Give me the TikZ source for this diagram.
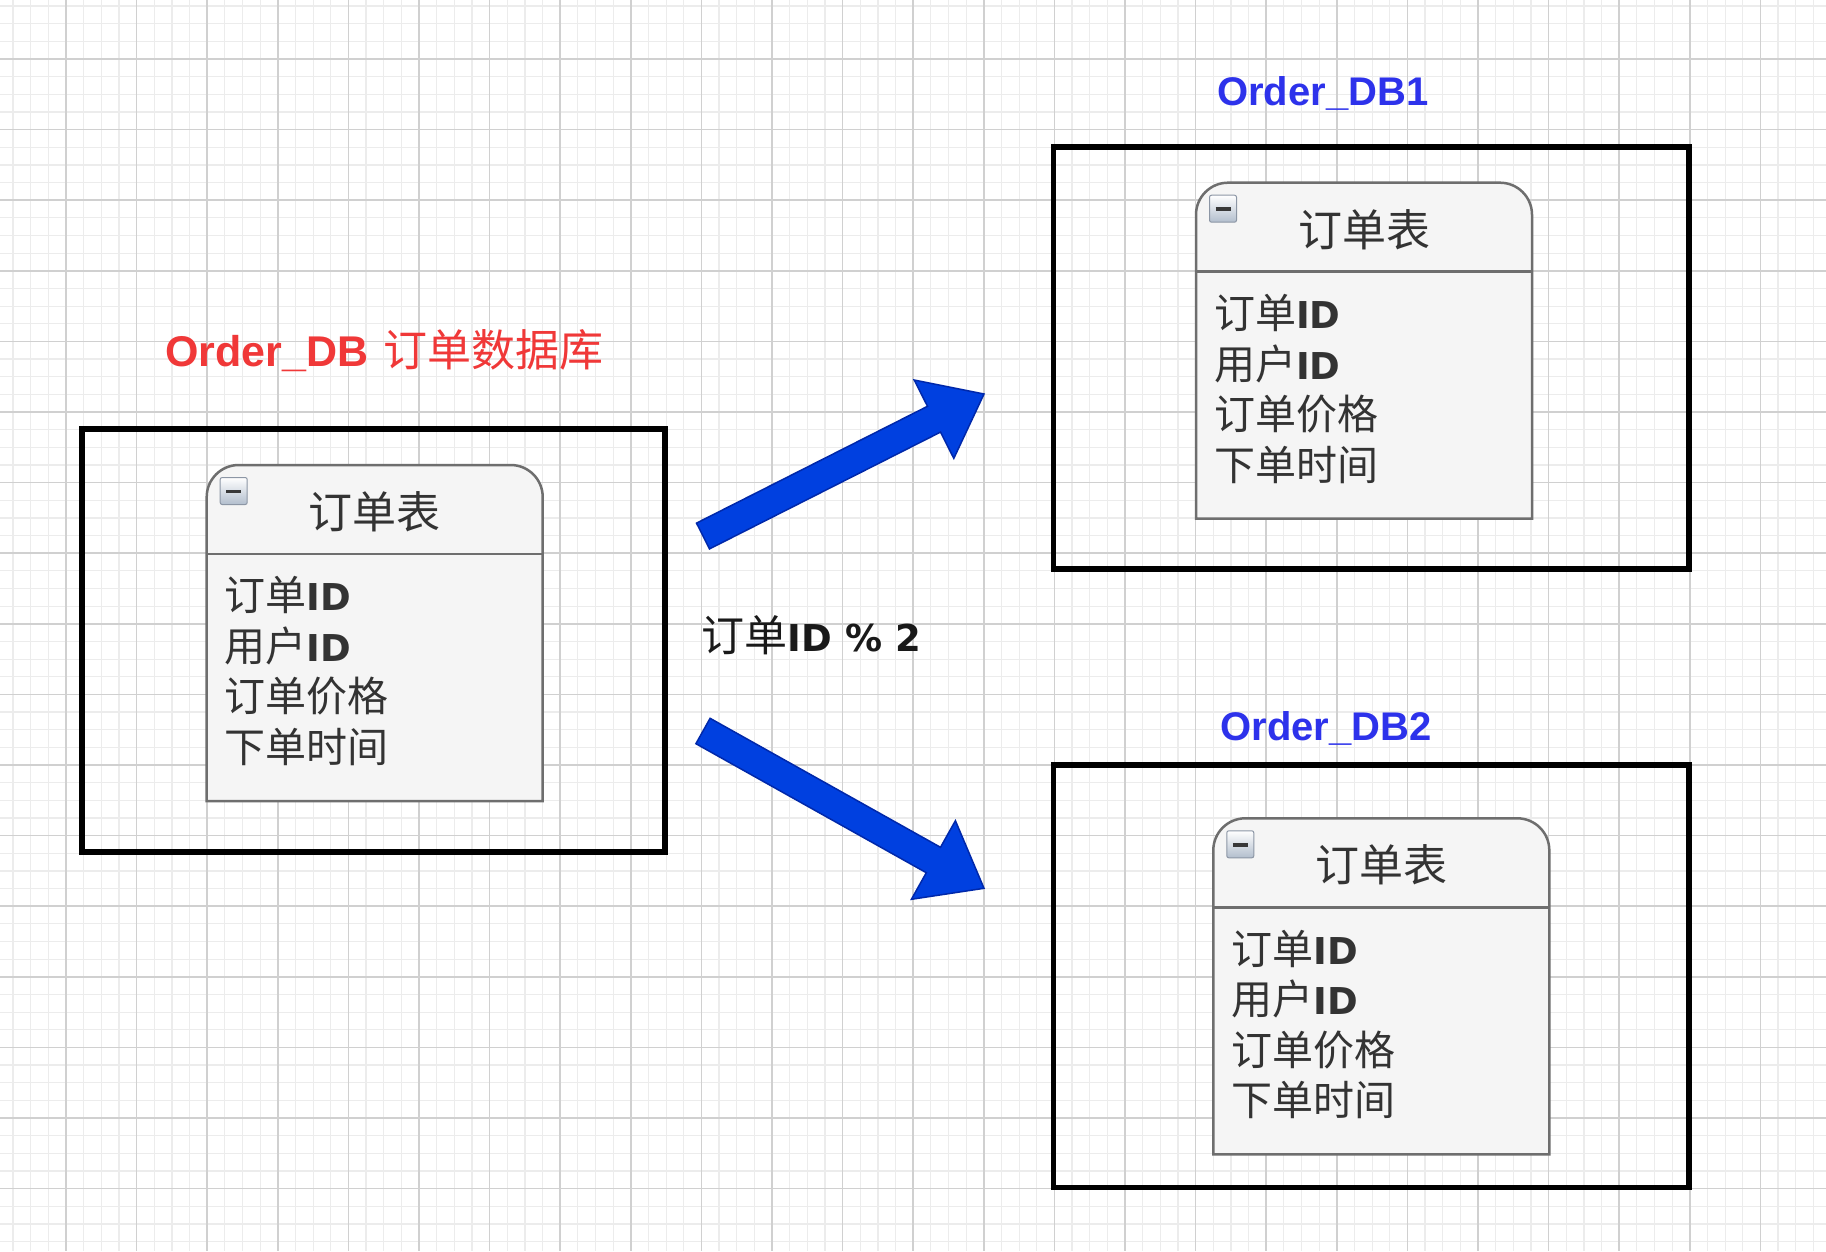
\documentclass[tikz,border=0pt]{standalone}
\usepackage{fontspec}
\setmainfont{Liberation Sans}
\newfontfamily\cjkfont{Noto Sans CJK SC}
\newfontfamily\dvsans{DejaVu Sans}
\definecolor{gridmajorc}{RGB}{208,208,208}
\definecolor{gridminorc}{RGB}{236,236,236}
\definecolor{tblfill}{RGB}{245,245,245}
\definecolor{tblline}{RGB}{110,110,110}
\definecolor{txtgray}{RGB}{51,51,51}
\definecolor{titlered}{RGB}{240,56,56}
\definecolor{titleblue}{RGB}{45,50,235}
\definecolor{arrowfill}{RGB}{0,64,224}
\definecolor{arrowline}{RGB}{0,40,170}
\definecolor{iconline}{RGB}{140,150,165}
\definecolor{iconbot}{RGB}{178,190,205}
\newcommand\IDtxt{{\fontsize{37}{37}\dvsans\bfseries ID}}
\newcommand\ertable[3]{%
  \draw[tblbox] (#2,#3+336) -- (#2,#3+32) arc[start angle=180,end angle=270,radius=32]
     -- (#2+304,#3) arc[start angle=270,end angle=360,radius=32] -- (#2+336,#3+336) -- cycle;
  \draw[tblsep] (#2,#3+89) -- (#2+336,#3+89);
  \draw[iconbox] (#2+13.5,#3+12.5) rectangle (#2+40.5,#3+39.5);
  \draw[iconbar] (#2+19.5,#3+26.5) -- (#2+34.5,#3+26.5);
  \node[hdr] (#1-head) at (#2+168,#3+46.7) {订单表};
  \node[fieldtxt] (#1-f1) at (#2+18,#3+145.7) {订单\IDtxt};
  \node[fieldtxt] (#1-f2) at (#2+18,#3+196.3) {用户\IDtxt};
  \node[fieldtxt] (#1-f3) at (#2+18,#3+246.9) {订单价格};
  \node[fieldtxt] (#1-f4) at (#2+18,#3+297.5) {下单时间};
}
\tikzset{
  gridminor/.style={draw=gridminorc, line width=1.2pt},
  gridmajor/.style={draw=gridmajorc, line width=1.6pt},
  dbbox/.style={draw=black, line width=5.5pt, inner sep=0pt},
  tblbox/.style={draw=tblline, fill=tblfill, line width=2.5pt},
  tblsep/.style={draw=tblline, line width=2.5pt},
  iconbox/.style={draw=iconline, line width=1pt, rounded corners=2pt, top color=white, bottom color=iconbot},
  iconbar/.style={draw=black!78, line width=3.5pt},
  hdr/.style={inner sep=0pt, text=txtgray, font=\fontsize{44}{44}\selectfont\cjkfont},
  fieldtxt/.style={anchor=base west, inner sep=0pt, text=txtgray, font=\fontsize{41}{41}\selectfont\cjkfont},
  bigarrow/.style={fill=arrowfill, draw=arrowline, line width=1.5pt, line join=miter},
}
\begin{document}
\begin{tikzpicture}[x=1pt,y=-1pt]
\useasboundingbox (0,0) rectangle (1826,1251);
\fill[white] (0,0) rectangle (1826,1251);
\begin{scope}
\clip (0,0) rectangle (1826,1251);
\foreach \i in {0,...,102} {\pgfmathsetmacro\gx{13.05+\i*17.65}\draw[gridminor] (\gx,0) -- (\gx,1251);}
\foreach \i in {0,...,71} {\pgfmathsetmacro\gy{6.05+\i*17.65}\draw[gridminor] (0,\gy) -- (1826,\gy);}
\foreach \i in {0,...,26} {\pgfmathsetmacro\gx{-4.6+\i*70.6}\draw[gridmajor] (\gx,0) -- (\gx,1251);}
\foreach \i in {0,...,18} {\pgfmathsetmacro\gy{-11.6+\i*70.6}\draw[gridmajor] (0,\gy) -- (1826,\gy);}
\end{scope}

% database frames
\node[dbbox, minimum width=583pt, minimum height=423pt] (db0) at (373.5,640.5) {};
\node[dbbox, minimum width=635.5pt, minimum height=422pt] (db1) at (1371.25,358) {};
\node[dbbox, minimum width=635.5pt, minimum height=422.5pt] (db2) at (1371.25,976.25) {};

% titles
\node[anchor=base west, inner sep=0pt, text=titlered, font=\fontsize{43}{43}\selectfont\bfseries] (title0) at (165,366)
  {Order\_DB\hspace{15pt}{\cjkfont\mdseries\fontsize{44}{44}\selectfont 订单数据库}};
\node[anchor=base west, inner sep=0pt, text=titleblue, font=\fontsize{40}{40}\selectfont\bfseries] (title1) at (1217,105) {Order\_DB1};
\node[anchor=base west, inner sep=0pt, text=titleblue, font=\fontsize{40}{40}\selectfont\bfseries] (title2) at (1220.3,740.7) {Order\_DB2};

% tables
\ertable{t0}{206.7}{465}
\ertable{t1}{1196}{182.7}
\ertable{t2}{1213.3}{818.3}

% routing label
\node[anchor=base west, inner sep=0pt, text=black!90] (rule) at (701.5,651.7)
  {{\cjkfont\fontsize{43}{43}\selectfont 订单}{\fontsize{37}{37}\dvsans\bfseries ID \% 2}};

% block arrows
\draw[bigarrow] (696.5,523.1) -- (927.5,406.3) -- (914.2,380.0) -- (984,394) -- (953.8,458.4) -- (940.5,432.1) -- (709.5,548.9) -- cycle;
\draw[bigarrow] (710.1,718.3) -- (940.5,847.3) -- (955.4,820.7) -- (984,888.3) -- (911.4,899.3) -- (926.3,872.7) -- (695.9,743.7) -- cycle;
\end{tikzpicture}
\end{document}
